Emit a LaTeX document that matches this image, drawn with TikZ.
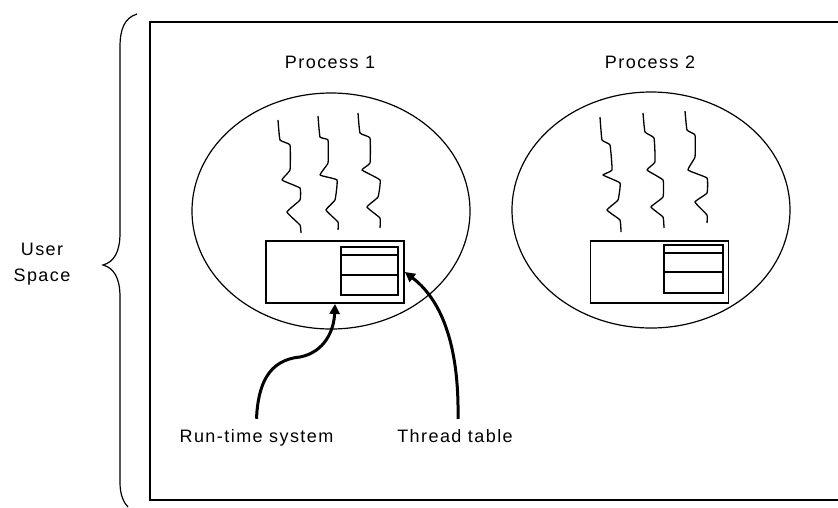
\documentclass[tikz,border=0pt]{standalone}
\usepackage{fontspec}
\setmainfont{Liberation Sans}[LetterSpace=8]
\usetikzlibrary{shapes.geometric,arrows.meta}

\tikzset{
  lbl/.style={font=\fontsize{18}{26}\selectfont, inner sep=0pt, anchor=base},
  proc/.style={ellipse, draw, line width=1.2pt, inner sep=0pt,
               minimum width=278, minimum height=236},
  rtbox/.style={draw, line width=1.8pt, inner sep=0pt,
                minimum width=138, minimum height=62},
  tablebox/.style={draw, line width=1.8pt, inner sep=0pt},
  thread/.style={line width=1.3pt, line join=round},
  pointer/.style={line width=3pt, -{Triangle[length=10,width=10]}},
}

\begin{document}
\begin{tikzpicture}[x=1pt, y=-1pt]
  \useasboundingbox (0,0) rectangle (838,507);

  % address space of the user (continues past the right edge)
  \draw[line width=1.5pt] (838,22) -- (150,22) -- (150,500) -- (838,500);

  % brace marking user space
  \draw[line width=1.2pt]
    (137,14) .. controls (124,18) and (120,30) .. (120,47)
    -- (120,233) .. controls (120,252) and (114,262) .. (103,265)
    .. controls (114,268) and (120,278) .. (120,297)
    -- (120,483) .. controls (120,495) and (124,503) .. (128,507);
  \node[lbl, anchor=center, align=center] (us) at (42,264) {User\\Space};

  % processes
  \node[proc] (p1) at (331,211) {};
  \node[proc] (p2) at (651,210) {};
  \node[lbl] (p1t) at (330,68) {Process 1};
  \node[lbl] (p2t) at (650,68) {Process 2};

  % threads of process 1
  \draw[thread] plot[smooth, tension=0.2] coordinates {
    (278,120) (280,140) (290,145) (290,170) (282,180) (300,188)
    (300,200) (287,212) (300,225) (301,233)};
  \draw[thread] plot[smooth, tension=0.2] coordinates {
    (318,116) (320,137) (328,140) (328,163) (320,175) (337,180)
    (335,200) (326,210) (338,222) (338,230)};
  \draw[thread] plot[smooth, tension=0.2] coordinates {
    (358,113) (360,133) (370,138) (370,163) (362,170) (380,180)
    (378,197) (367,207) (380,218) (380,228)};

  % threads of process 2
  \draw[thread] plot[smooth, tension=0.2] coordinates {
    (600,117) (602,140) (610,145) (612,170) (603,175) (620,183)
    (618,200) (607,210) (620,220) (621,232)};
  \draw[thread] plot[smooth, tension=0.2] coordinates {
    (643,113) (645,132) (654,138) (655,162) (647,170) (663,180)
    (663,197) (651,207) (663,217) (664,228)};
  \draw[thread] plot[smooth, tension=0.2] coordinates {
    (685,111) (687,130) (695,135) (695,157) (688,170) (707,178)
    (707,193) (695,202) (707,215) (707,223)};

  % run-time system with its thread table, process 1
  \node[rtbox] (rt1) at (335,272) {};
  \node[tablebox, minimum width=57, minimum height=48] (tt1) at (369.5,271) {};
  \draw[line width=1.8pt] (tt1.west |- 0,255) -- (tt1.east |- 0,255);
  \draw[line width=1.8pt] (tt1.west |- 0,275) -- (tt1.east |- 0,275);

  % run-time system with its thread table, process 2
  \node[rtbox] (rt2) at (659.5,272) {};
  \node[tablebox, minimum width=59, minimum height=48] (tt2) at (693.5,269) {};
  \draw[line width=1.8pt] (tt2.west |- 0,253) -- (tt2.east |- 0,253);
  \draw[line width=1.8pt] (tt2.west |- 0,272) -- (tt2.east |- 0,272);

  % labels and pointers
  \node[lbl] (rtl) at (256.5,442) {Run-time system};
  \node[lbl] (ttl) at (455,442) {Thread table};

  \draw[pointer] ([yshift=10pt]rtl.north)
    .. controls (258,385) and (268,360) .. (300,357)
    .. controls (325,352) and (334,330) .. (rt1.south);
  \draw[pointer] ([yshift=10pt, xshift=3pt]ttl.north)
    .. controls (459,360) and (448,305) .. (rt1.east);
\end{tikzpicture}
\end{document}
